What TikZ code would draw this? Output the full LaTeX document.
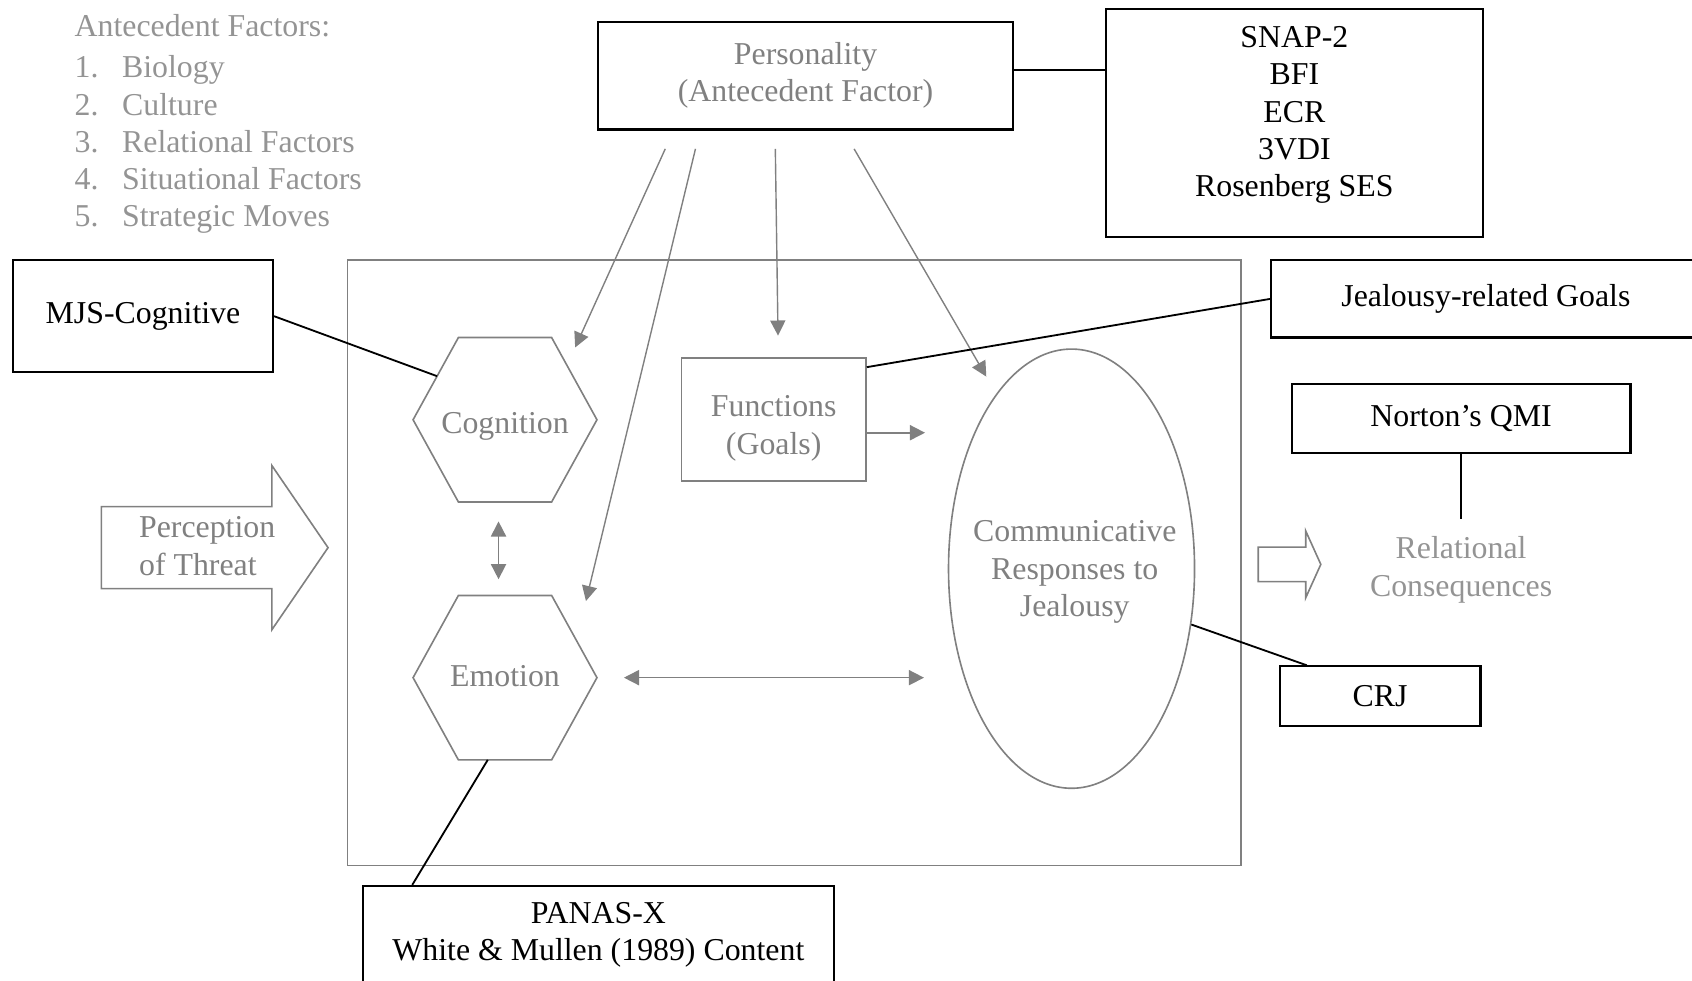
\documentclass[tikz,border=0pt]{standalone}
\usepackage{fontspec}
\setmainfont{Liberation Serif}
\usetikzlibrary{shapes.geometric,arrows.meta,calc}

\begin{document}
\begin{tikzpicture}[x=1pt,y=-1pt,>={Triangle[length=14pt,width=14pt]}]

\tikzset{%
    txt/.style={font=\fontsize{29.5}{34.5}\selectfont, inner sep=0pt, align=center},
    graytxt/.style={txt, text=black!50},
    lighttxt/.style={txt, text=black!42},
    measbox/.style={txt, draw=black, line width=1.9pt},
    grayline/.style={draw=black!50, line width=1.5pt},
    garrow/.style={black!50, line width=1.5pt},
    parrow/.style={black!50, line width=1.3pt, ->},
    tie/.style={black, line width=1.7pt},
}

\def\hexw{170pt}
\def\hexh{152pt}
\def\hexin{42pt}

%\hexnode{name}{x}{y}{text}{text y}
\newcommand*{\hexnode}[5]{%
	\node [minimum width=\hexw, minimum height=\hexh] (#1) at (#2,#3) {};
	\node [graytxt] (#1-text) at (#2,#5) {#4};
	\coordinate (#1-nw) at ([xshift=\hexin]#1.north west);
	\draw [grayline] (#1.west) -- (#1-nw) -- ([xshift=-\hexin]#1.north east) -- (#1.east)
		-- ([xshift=-\hexin]#1.south east) -- ([xshift=\hexin]#1.south west) -- cycle;
}

%\hollowarrow{tail x}{mid y}{shaft half}{head x}{tip x}{head half}
\newcommand*{\hollowarrow}[6]{%
	\draw [grayline] (#1,#2-#3) -- (#4,#2-#3) -- (#4,#2-#6) -- (#5,#2)
		-- (#4,#2+#6) -- (#4,#2+#3) -- (#1,#2+#3) -- cycle;
}

\useasboundingbox (0,0) rectangle (1568,909);

% antecedent factors
\node [lighttxt, align=left, anchor=west] (ante) at (69,115.2) {Antecedent Factors:\\[3.5pt]
	\makebox[44pt][l]{1.}Biology\\
	\makebox[44pt][l]{2.}Culture\\
	\makebox[44pt][l]{3.}Relational Factors\\
	\makebox[44pt][l]{4.}Situational Factors\\
	\makebox[44pt][l]{5.}Strategic Moves};

% personality
\node [measbox, text=black!50, minimum width=384pt, minimum height=100pt] (pers) at (746.5,70) {Personality\\(Antecedent Factor)};
\node [measbox, minimum width=349pt, minimum height=212pt] (snap) at (1199.5,114) {};
\node [txt] (snaptext) at (1199.5,106.5) {SNAP-2\\BFI\\ECR\\3VDI\\Rosenberg SES};
\draw [tie] ([yshift=5pt]pers.east) coordinate (pe) -- (pe -| snap.west);

% frame
\draw [grayline] (322,241) rectangle (1150,802);

% inner process
\hexnode{cog}{468}{389}{Cognition}{395}
\hexnode{emo}{468}{628}{Emotion}{627}
\draw [garrow, <->, shorten <=18pt, shorten >=15pt] ([xshift=-6pt]cog.south) -- ([xshift=-6pt]emo.north);

\node [draw=black!50, line width=1.5pt, minimum width=171pt, minimum height=114pt] (func) at (717,389) {};
\node [graytxt] (functext) at (717,397) {Functions\\(Goals)};

\node [ellipse, draw=black!50, line width=1.5pt, minimum width=228pt, minimum height=407pt, inner sep=0pt] (comm) at (993,527) {};
\node [graytxt] (commtext) at (996,530) {Communicative\\Responses to\\Jealousy};

\draw [garrow, ->, shorten >=21pt] ([yshift=-12pt]func.east) coordinate (fe) -- (fe -| comm.west);
\draw [garrow, <->, shorten <=25pt, shorten >=22pt] (emo.east) -- (emo.east -| comm.west);

% personality arrows
\coordinate (t1) at (533,322);
\coordinate (t2) at (543,557);
\coordinate (t3) at (721,311);
\coordinate (t4) at (914,349);
\draw [parrow] ($(pers.south)+(-130,17)$) -- (t1);
\draw [parrow] ($(pers.south)+(-102,17)$) -- (t2);
\draw [parrow] ($(pers.south)+(-28,17)$) -- (t3);
\draw [parrow] ($(pers.south)+(45,17)$) -- (t4);

% perception of threat
\hollowarrow{94}{507.5}{38}{252}{304}{76}
\node [graytxt, align=left] (threat) at (192,506) {Perception\\of Threat};

% relational consequences
\hollowarrow{1166}{523}{16}{1210}{1224}{31}
\node [lighttxt] (rel) at (1354,528) {Relational\\Consequences};

% measures
\node [measbox, minimum width=241pt, minimum height=104pt] (mjs) at (132.5,293) {MJS-Cognitive};
\draw [tie] (mjs.east) -- ($(cog.west)!0.53!(cog-nw)$);

\node [measbox, minimum width=398pt, minimum height=71.5pt] (jeal) at (1377,277) {Jealousy-related Goals};
\draw [tie] ([yshift=-9pt]func.north east) -- (jeal.west);

\node [measbox, minimum width=314pt, minimum height=64pt] (qmi) at (1354,388) {Norton’s QMI};
\draw [tie, shorten >=16pt] (qmi.south) -- (qmi.south |- rel.north);

\node [measbox, minimum width=186pt, minimum height=55pt] (crj) at (1279,645) {CRJ};
\draw [tie] (comm.-25) -- ([xshift=-68pt]crj.north);

\node [measbox, minimum width=437pt, minimum height=91pt] (panas) at (554.5,866.5) {PANAS-X\\White \& Mullen (1989) Content};
\draw [tie] ([xshift=-16pt]emo.south) -- ([xshift=47pt]panas.north west);

\end{tikzpicture}
\end{document}
